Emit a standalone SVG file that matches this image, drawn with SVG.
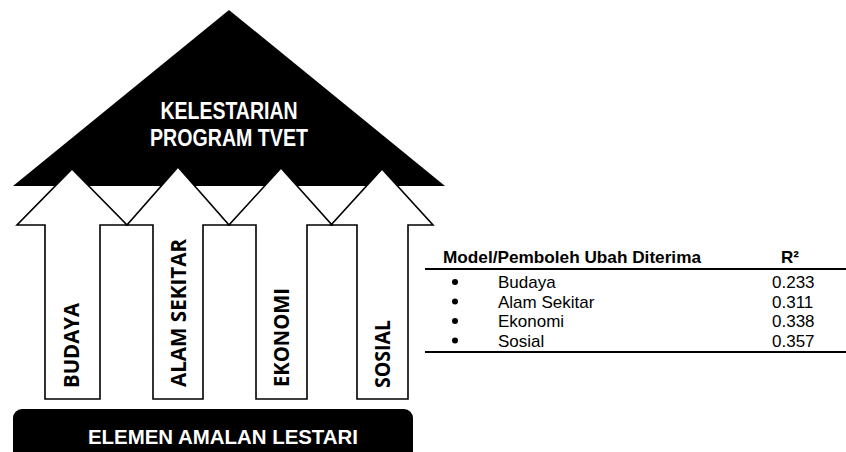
<svg xmlns="http://www.w3.org/2000/svg" width="846" height="452" viewBox="0 0 846 452">
  <style>
    .arrow { fill: #ffffff; stroke: #000000; stroke-width: 1.6; stroke-linejoin: miter; }
    .lbl { font-family: "Open Sans", Lato, "Liberation Sans", sans-serif; font-weight: bold; font-size: 22px; fill: #000000; }
    .white { font-family: "Liberation Sans", Arial, sans-serif; font-weight: bold; fill: #ffffff; }
    .th { font-family: "Liberation Sans", Arial, sans-serif; font-weight: bold; font-size: 17px; fill: #000000; }
    .td { font-family: "Liberation Sans", Arial, sans-serif; font-size: 17px; fill: #000000; }
  </style>
  <rect width="846" height="452" fill="#ffffff"/>

  <g id="roof">
    <polygon points="13,186 229,10 445,186" fill="#000000"/>
    <text class="white" x="229" y="119" font-size="23" text-anchor="middle" textLength="137" lengthAdjust="spacingAndGlyphs">KELESTARIAN</text>
    <text class="white" x="229" y="146" font-size="23" text-anchor="middle" textLength="158" lengthAdjust="spacingAndGlyphs">PROGRAM TVET</text>
  </g>

  <g id="base">
    <rect x="13" y="409" width="400" height="60" rx="9" ry="9" fill="#000000"/>
    <text class="white" x="223" y="444" font-size="21" text-anchor="middle" textLength="270" lengthAdjust="spacingAndGlyphs">ELEMEN AMALAN LESTARI</text>
  </g>

  <g id="connectors">
    <g id="arrow-budaya">
      <polygon class="arrow" points="72,169 127,225 100,225 100,399 45,399 45,225 17,225"/>
      <text class="lbl" transform="translate(79,388) rotate(-90)" textLength="85" lengthAdjust="spacingAndGlyphs">BUDAYA</text>
    </g>
    <g id="arrow-alam">
      <polygon class="arrow" points="178,167 229,225 203,225 203,399 153,399 153,225 127,225"/>
      <text class="lbl" transform="translate(186,387) rotate(-90)" textLength="148" lengthAdjust="spacingAndGlyphs">ALAM SEKITAR</text>
    </g>
    <g id="arrow-ekonomi">
      <polygon class="arrow" points="281,168 332,225 307,225 307,399 256,399 256,225 229,225"/>
      <text class="lbl" transform="translate(289,387) rotate(-90)" textLength="99" lengthAdjust="spacingAndGlyphs">EKONOMI</text>
    </g>
    <g id="arrow-sosial">
      <polygon class="arrow" points="382,169 433,225 408,225 408,399 357,399 357,225 331,225"/>
      <text class="lbl" transform="translate(390,388) rotate(-90)" textLength="68" lengthAdjust="spacingAndGlyphs">SOSIAL</text>
    </g>
  </g>

  <g id="table">
    <text class="th" x="443" y="263" textLength="258" lengthAdjust="spacingAndGlyphs">Model/Pemboleh Ubah Diterima</text>
    <text class="th" x="781" y="263">R²</text>
    <line x1="425" y1="269" x2="846" y2="269" stroke="#000000" stroke-width="2"/>
    <g id="row-budaya">
      <circle cx="455" cy="282" r="3" fill="#000000"/>
      <text class="td" x="498" y="288">Budaya</text>
      <text class="td" x="772" y="288">0.233</text>
    </g>
    <g id="row-alam">
      <circle cx="455" cy="301.5" r="3" fill="#000000"/>
      <text class="td" x="498" y="307.5">Alam Sekitar</text>
      <text class="td" x="772" y="307.5">0.311</text>
    </g>
    <g id="row-ekonomi">
      <circle cx="455" cy="321" r="3" fill="#000000"/>
      <text class="td" x="498" y="327">Ekonomi</text>
      <text class="td" x="772" y="327">0.338</text>
    </g>
    <g id="row-sosial">
      <circle cx="455" cy="340.5" r="3" fill="#000000"/>
      <text class="td" x="498" y="346.5">Sosial</text>
      <text class="td" x="772" y="346.5">0.357</text>
    </g>
    <line x1="425" y1="352" x2="846" y2="352" stroke="#000000" stroke-width="2"/>
  </g>
</svg>
